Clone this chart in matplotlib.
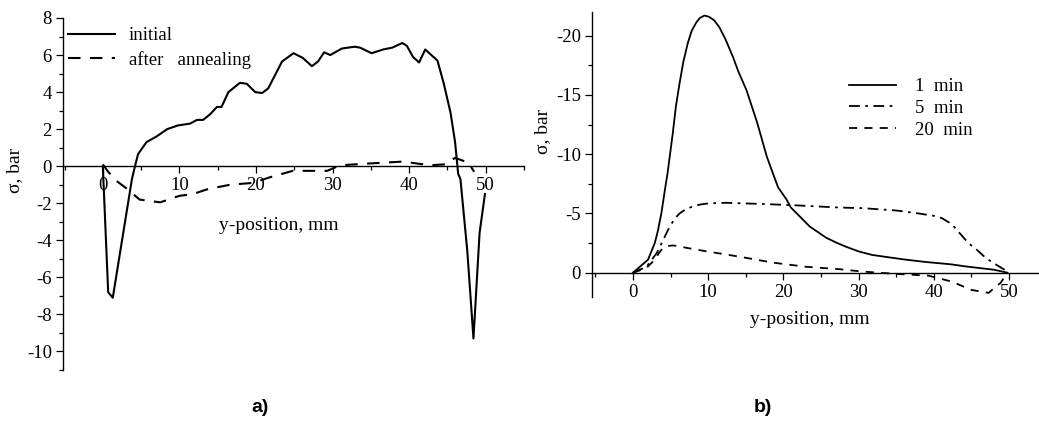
import numpy as np
import matplotlib.pyplot as plt
from matplotlib.ticker import MultipleLocator

plt.rcParams['font.family'] = ['Liberation Serif', 'DejaVu Serif']
plt.rcParams['axes.unicode_minus'] = False

# a) stress profile, initial and after annealing
x_init = [0, 0.7, 1.3, 3.8, 4.2, 4.6, 5.7, 7.0, 8.4, 9.8, 11.4, 12.3, 13.1, 14.0,
          14.9, 15.5, 16.4, 17.9, 18.8, 19.9, 20.8, 21.6, 23.4, 24.9, 26.1, 27.3,
          28.1, 28.9, 29.7, 31.2, 32.0, 32.9, 33.6, 35.1, 36.6, 37.8, 39.1, 39.7,
          40.5, 41.3, 42.1, 43.7, 44.5, 45.4, 46.0, 46.4, 46.7, 47.6, 48.4, 49.2, 49.9]
y_init = [0, -6.8, -7.1, -0.7, 0.0, 0.65, 1.3, 1.6, 2.0, 2.2, 2.3, 2.5, 2.5, 2.8,
          3.2, 3.2, 4.0, 4.5, 4.45, 4.0, 3.95, 4.2, 5.65, 6.1, 5.85, 5.4,
          5.65, 6.15, 6.0, 6.35, 6.4, 6.45, 6.4, 6.1, 6.3, 6.4, 6.65, 6.5,
          5.9, 5.6, 6.3, 5.7, 4.5, 2.9, 1.3, -0.4, -0.7, -4.6, -9.3, -3.6, -1.5]

x_ann = [0, 0.7, 1.8, 3.1, 4.8, 7.5, 10.0, 11.8, 13.6, 16.6, 19.6, 21.8, 24.8,
         29.3, 31.0, 34.9, 39.2, 42.7, 44.7, 46.0, 47.7, 48.5]
y_ann = [0.1, -0.3, -0.8, -1.2, -1.8, -1.95, -1.6, -1.5, -1.25, -1.0, -0.9, -0.6,
         -0.25, -0.25, 0.05, 0.15, 0.25, 0.05, 0.1, 0.45, 0.2, -0.3]

# b) stress profile after 1, 5 and 20 min
x_1 = [0, 2.0, 2.9, 3.3, 3.8, 4.2, 4.6, 5.3, 5.7, 6.2, 6.7, 7.3, 7.8, 8.4, 8.9,
       9.5, 10.1, 10.8, 11.5, 12.3, 13.3, 14.0, 15.1, 16.5, 17.8, 18.6, 19.3,
       20.4, 21.0, 22.1, 23.5, 25.7, 27.0, 28.3, 30.0, 31.8, 34.0, 36.3, 39.0,
       42.4, 44.0, 46.0, 48.0, 49.8]
y_1 = [0, -1.1, -2.5, -3.5, -5.1, -6.8, -8.4, -11.8, -14.0, -16.0, -17.8, -19.4,
       -20.4, -21.1, -21.5, -21.7, -21.6, -21.3, -20.7, -19.7, -18.2, -17.0,
       -15.4, -12.7, -9.8, -8.4, -7.2, -6.2, -5.5, -4.8, -3.9, -2.95, -2.55,
       -2.2, -1.8, -1.5, -1.3, -1.1, -0.9, -0.7, -0.55, -0.4, -0.25, 0]

x_5 = [0, 1.8, 3.2, 4.5, 5.0, 5.6, 6.2, 7.0, 8.0, 8.9, 10.0, 12.4, 17.2, 21.2,
       27.4, 30.5, 35.0, 38.0, 40.0, 41.1, 42.4, 43.5, 44.6, 45.8, 46.9, 48.5, 49.8]
y_5 = [0, -0.5, -1.7, -3.4, -4.0, -4.6, -5.0, -5.35, -5.6, -5.75, -5.85, -5.9,
       -5.8, -5.7, -5.5, -5.45, -5.25, -5.0, -4.8, -4.6, -4.1, -3.3, -2.5, -1.9,
       -1.25, -0.6, -0.1]

x_20 = [0, 1.8, 2.9, 3.5, 4.0, 4.6, 5.3, 6.0, 7.1, 9.8, 14.2, 18.6, 23.0, 27.4,
        30.5, 35.0, 39.3, 42.4, 45.0, 47.3, 48.9, 49.8]
y_20 = [0, -0.4, -1.1, -1.7, -2.1, -2.25, -2.3, -2.25, -2.1, -1.8, -1.35, -0.85,
        -0.5, -0.3, -0.1, 0.1, 0.25, 0.75, 1.45, 1.7, 0.85, 0]

fig = plt.figure(figsize=(10.39, 4.22), dpi=100)
ax1 = fig.add_axes([63/1039, 1-370/422, 461/1039, 352/422])
ax2 = fig.add_axes([592/1039, 1-297/422, 447/1039, 285/422])


def style(ax):
    ax.spines['top'].set_visible(False)
    ax.spines['right'].set_visible(False)
    ax.spines['bottom'].set_position(('data', 0))
    ax.spines['left'].set_linewidth(1.0)
    ax.spines['bottom'].set_linewidth(1.0)
    ax.patch.set_alpha(0)
    ax.tick_params(which='major', length=5, width=0.9, labelsize=13.5, pad=3)
    ax.tick_params(which='minor', length=3, width=0.9)


ax1.plot(x_init, y_init, 'k-', lw=1.5, label='initial')
ax1.plot(x_ann, y_ann, 'k', lw=1.5, ls=(0, (6, 4.5)), label='after   annealing')
ax1.set_xlim(-5.2, 55)
ax1.set_ylim(-11, 8)
ax1.xaxis.set_major_locator(MultipleLocator(10))
ax1.xaxis.set_minor_locator(MultipleLocator(5))
ax1.yaxis.set_major_locator(MultipleLocator(2))
ax1.yaxis.set_minor_locator(MultipleLocator(1))
style(ax1)
ax1.legend(loc='upper left', bbox_to_anchor=(68/1039, 1-27/422),
           bbox_transform=fig.transFigure, frameon=False, fontsize=13.5,
           handlelength=2.5, handletextpad=0.75, labelspacing=0.35,
           borderpad=0, borderaxespad=0)

ax2.plot(x_1, y_1, 'k-', lw=1.3, label='1  min')
ax2.plot(x_5, y_5, 'k', lw=1.3, ls=(0, (6, 3, 1.5, 3)), label='5  min')
ax2.plot(x_20, y_20, 'k', lw=1.3, ls=(0, (4.5, 4)), label='20  min')
ax2.set_xlim(-5.45, 54)
ax2.set_ylim(2.05, -22)
ax2.xaxis.set_major_locator(MultipleLocator(10))
ax2.xaxis.set_minor_locator(MultipleLocator(5))
ax2.yaxis.set_major_locator(MultipleLocator(5))
ax2.yaxis.set_minor_locator(MultipleLocator(2.5))
style(ax2)
ax2.legend(loc='upper left', bbox_to_anchor=(849/1039, 1-78/422),
           bbox_transform=fig.transFigure, frameon=False, fontsize=13.5,
           handlelength=2.5, handletextpad=1.0, labelspacing=0.25,
           borderpad=0, borderaxespad=0)

fig.text(279/1039, 1-225/422, 'y-position, mm', ha='center', va='center', fontsize=14)
fig.text(810/1039, 1-320/422, 'y-position, mm', ha='center', va='center', fontsize=14)
fig.text(15/1039, 1-170/422, 'σ, bar', rotation=90, ha='center', va='center', fontsize=14)
fig.text(543/1039, 1-131/422, 'σ, bar', rotation=90, ha='center', va='center', fontsize=14)

fig.text(260/1039, 1-407/422, 'a)', ha='center', va='center', fontsize=14,
         fontweight='bold', family='Liberation Sans')
fig.text(763/1039, 1-407/422, 'b)', ha='center', va='center', fontsize=14,
         fontweight='bold', family='Liberation Sans')

fig.savefig('out.png', dpi=100)
